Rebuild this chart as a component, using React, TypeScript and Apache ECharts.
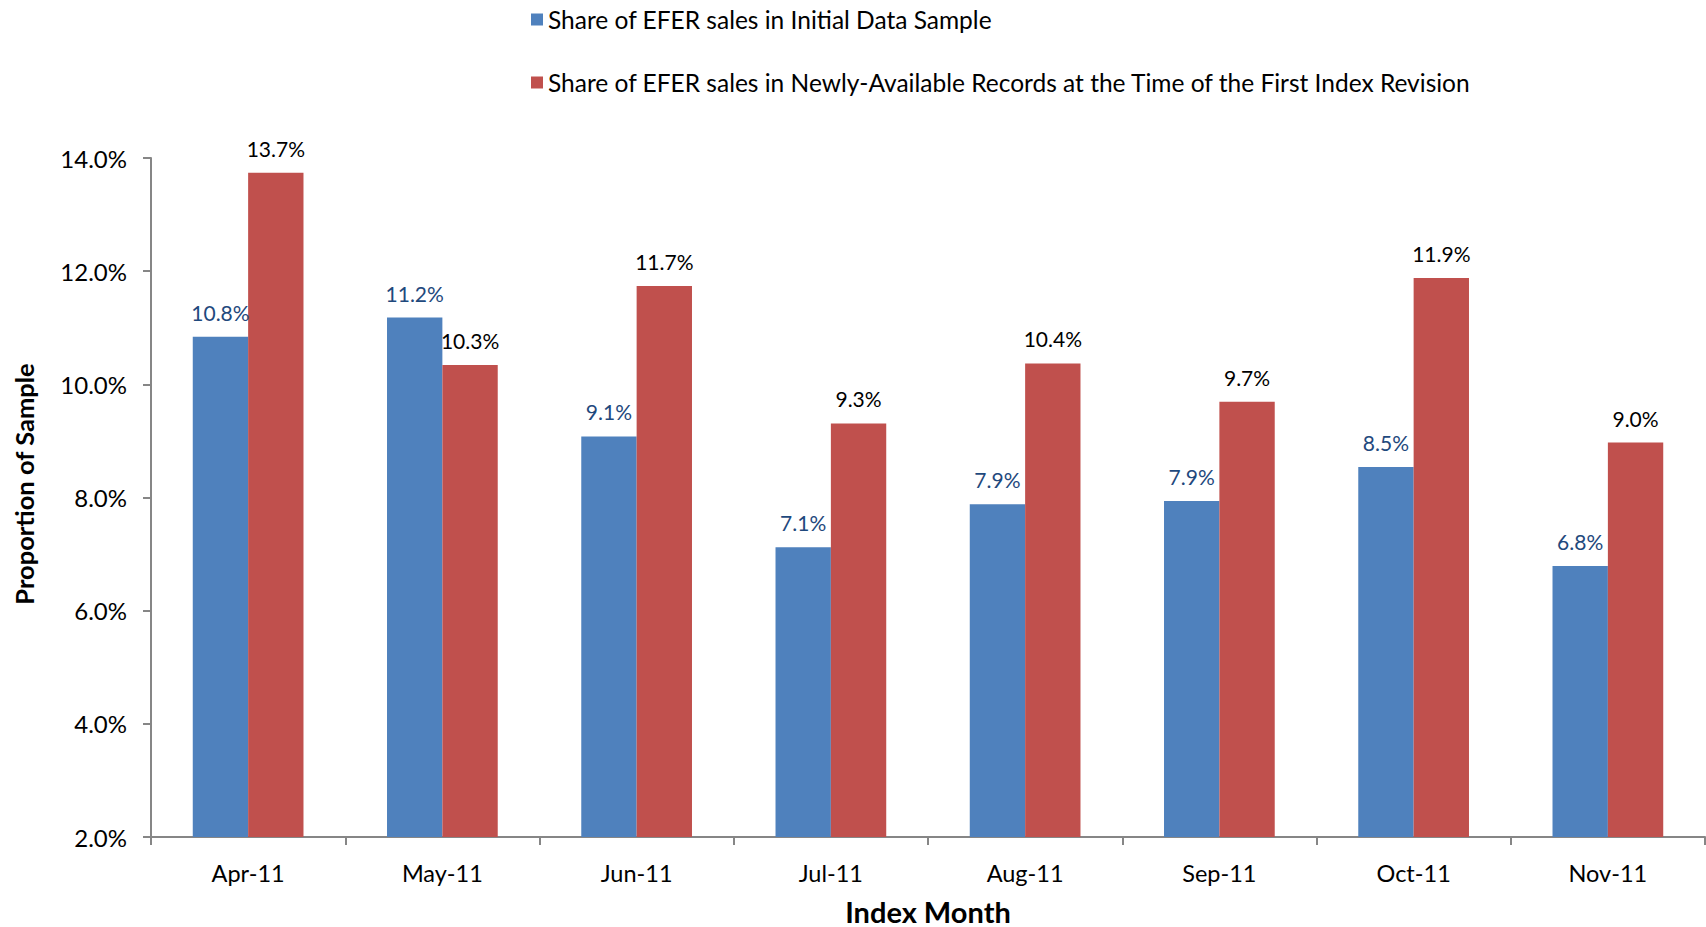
import React, { useEffect, useRef } from "react";
import * as echarts from "echarts";

const categories = ["Apr-11", "May-11", "Jun-11", "Jul-11", "Aug-11", "Sep-11", "Oct-11", "Nov-11"];
const initialShare = [10.84, 11.18, 9.08, 7.12, 7.88, 7.94, 8.54, 6.79];
const revisionShare = [13.74, 10.34, 11.74, 9.31, 10.37, 9.69, 11.88, 8.97];
const seriesNames = [
  "Share of EFER sales in Initial Data Sample",
  "Share of EFER sales in Newly-Available Records at the Time of the First Index Revision",
];
const yMin = 2;
const yMax = 14;
const yInterval = 2;

const FONT = "Lato, 'Open Sans', sans-serif";

export default function App() {
  const ref = useRef<HTMLDivElement>(null);
  useEffect(() => {
    if (!ref.current) return;
    const chart = echarts.init(ref.current, undefined, { renderer: "svg" });
    const fmt = (p: any) => Number(p.value).toFixed(1) + "%";
    chart.setOption({
      animation: false,
      backgroundColor: "#ffffff",
      textStyle: { fontFamily: FONT },
      legend: [
        {
          data: [seriesNames[0]],
          left: 526,
          top: 2,
          itemWidth: 12,
          itemHeight: 12,
          icon: "rect",
          itemGap: 8,
          textStyle: { fontSize: 24.5, color: "#000", fontFamily: FONT },
        },
        {
          data: [seriesNames[1]],
          left: 526,
          top: 65,
          itemWidth: 12,
          itemHeight: 12,
          icon: "rect",
          textStyle: { fontSize: 24.5, color: "#000", fontFamily: FONT },
        },
      ],
      grid: {
        left: 151,
        right: 1,
        top: 158,
        bottom: 90,
        containLabel: false,
        outerBoundsMode: "none",
      },
      xAxis: {
        type: "category",
        data: categories,
        name: "Index Month",
        nameLocation: "middle",
        nameGap: 60,
        nameTextStyle: {
          fontSize: 29,
          lineHeight: 28,
          fontWeight: "bold",
          color: "#000",
          fontFamily: FONT,
        },
        axisLine: { lineStyle: { color: "#868686", width: 2 } },
        axisTick: { show: true, length: 8, lineStyle: { color: "#868686", width: 2 } },
        axisLabel: { fontSize: 23.5, color: "#000", margin: 24, fontFamily: FONT },
      },
      yAxis: {
        type: "value",
        min: yMin,
        max: yMax,
        interval: yInterval,
        axisLine: { show: true, lineStyle: { color: "#868686", width: 2 } },
        axisTick: { show: true, length: 8, lineStyle: { color: "#868686", width: 2 } },
        splitLine: { show: false },
        axisLabel: {
          fontSize: 24,
          color: "#000",
          margin: 24,
          fontFamily: FONT,
          formatter: (v: number) => v.toFixed(1) + "%",
        },
      },
      graphic: [
        {
          type: "text",
          x: 24,
          y: 484,
          rotation: Math.PI / 2,
          style: {
            text: "Proportion of Sample",
            fontSize: 25.5,
            fontWeight: "bold",
            fill: "#000",
            fontFamily: FONT,
            textAlign: "center",
            textVerticalAlign: "middle",
          },
        },
      ],
      series: [
        {
          name: seriesNames[0],
          type: "bar",
          data: initialShare,
          barGap: "0%",
          barCategoryGap: "43%",
          itemStyle: { color: "#4F81BD" },
          label: {
            show: true,
            position: "top",
            distance: 14,
            fontSize: 21,
            color: "#1F497D",
            fontFamily: FONT,
            formatter: fmt,
          },
        },
        {
          name: seriesNames[1],
          type: "bar",
          data: revisionShare,
          barGap: "0%",
          barCategoryGap: "43%",
          itemStyle: { color: "#C0504D" },
          label: {
            show: true,
            position: "top",
            distance: 14,
            fontSize: 21,
            color: "#000",
            fontFamily: FONT,
            formatter: fmt,
          },
        },
      ],
    });
    return () => chart.dispose();
  }, []);
  return (
    <div
      ref={ref}
      style={{ position: "absolute", left: 0, top: 0, width: 1706, height: 927 }}
    />
  );
}
